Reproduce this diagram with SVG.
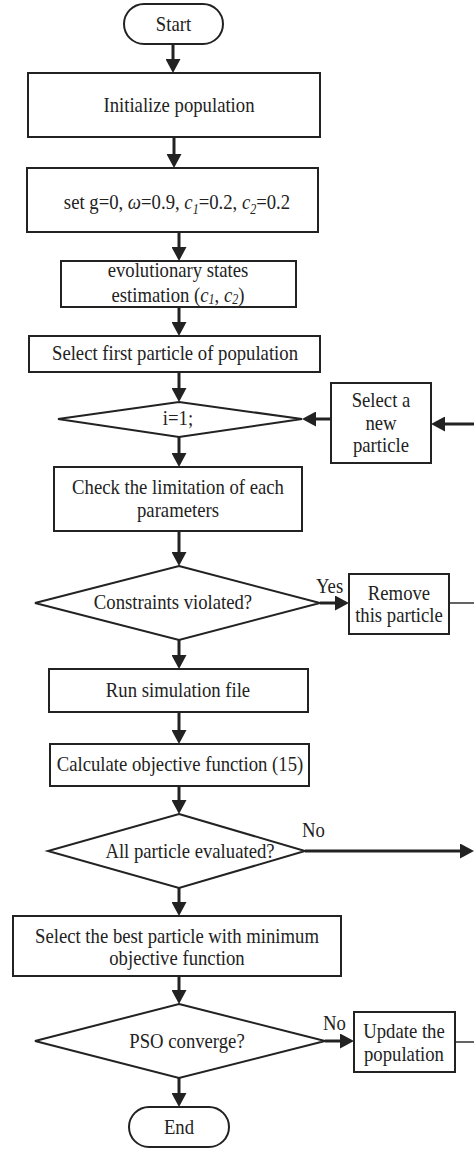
<svg xmlns="http://www.w3.org/2000/svg" width="474" height="1149" viewBox="0 0 474 1149">
<style>
.box{fill:#fff;stroke:#222;stroke-width:2}
.t{font-family:"Liberation Serif","Times New Roman",serif;font-size:18.7px;fill:#222;text-anchor:middle}
.l{font-family:"Liberation Serif","Times New Roman",serif;font-size:18.7px;fill:#222}
.c{stroke:#222;stroke-width:3;fill:none}
.thin{stroke:#222;stroke-width:1.4;fill:none}
.i{font-style:italic}
.s{font-size:12px;font-style:italic}
</style>
<defs>
<marker id="ah" markerUnits="userSpaceOnUse" markerWidth="15" markerHeight="15" refX="4" refY="7.5" orient="auto">
<path d="M0,0 L14,7.5 L0,15 z" fill="#222"/>
</marker>
</defs>
<g id="connectors">
<line class="c" x1="173" y1="44" x2="173" y2="63" marker-end="url(#ah)"/>
<line class="c" x1="174" y1="137" x2="174" y2="158" marker-end="url(#ah)"/>
<line class="c" x1="179" y1="232" x2="179" y2="251" marker-end="url(#ah)"/>
<line class="c" x1="179" y1="307" x2="179" y2="326" marker-end="url(#ah)"/>
<line class="c" x1="179" y1="372" x2="179" y2="392" marker-end="url(#ah)"/>
<line class="c" x1="331" y1="419" x2="312" y2="419" marker-end="url(#ah)"/>
<line class="c" x1="474" y1="424" x2="441" y2="424" marker-end="url(#ah)"/>
<line class="c" x1="179" y1="437" x2="179" y2="457" marker-end="url(#ah)"/>
<line class="c" x1="179" y1="531" x2="179" y2="556" marker-end="url(#ah)"/>
<line class="c" x1="320" y1="603" x2="339" y2="603" marker-end="url(#ah)"/>
<line class="thin" x1="449" y1="603" x2="474" y2="603"/>
<line class="c" x1="179" y1="640" x2="179" y2="659" marker-end="url(#ah)"/>
<line class="c" x1="179" y1="712" x2="179" y2="734" marker-end="url(#ah)"/>
<line class="c" x1="179" y1="786" x2="179" y2="804" marker-end="url(#ah)"/>
<line class="c" x1="305" y1="851" x2="464" y2="851" marker-end="url(#ah)"/>
<line class="c" x1="179" y1="888" x2="179" y2="906" marker-end="url(#ah)"/>
<line class="c" x1="179" y1="976" x2="179" y2="994" marker-end="url(#ah)"/>
<line class="c" x1="325" y1="1041" x2="344" y2="1041" marker-end="url(#ah)"/>
<line class="thin" x1="455" y1="1042" x2="474" y2="1042"/>
<line class="c" x1="179" y1="1078" x2="179" y2="1097" marker-end="url(#ah)"/>
<text class="l" x="316" y="593" transform="matrix(1 0 0 1.15 0 -88.95)">Yes</text>
<text class="l" x="302" y="837" transform="matrix(1 0 0 1.15 0 -125.55)">No</text>
<text class="l" x="323" y="1030" transform="matrix(1 0 0 1.15 0 -154.5)">No</text>
</g>
<g id="start">
<rect class="box" x="124" y="4" width="99" height="40" rx="20"/>
<text class="t" x="173.5" y="31" transform="matrix(1 0 0 1.15 0 -4.65)">Start</text>
</g>
<g id="init">
<rect class="box" x="28" y="73" width="292" height="64"/>
<text class="t" x="179" y="112" transform="matrix(1 0 0 1.15 0 -16.8)">Initialize population</text>
</g>
<g id="set">
<rect class="box" x="27" y="168" width="291" height="64"/>
<text class="t" x="177" y="209" transform="matrix(1 0 0 1.15 0 -31.35)">set g=0, <tspan class="i">ω</tspan>=0.9, <tspan class="i">c</tspan><tspan class="s" dy="4">1</tspan><tspan dy="-4">=0.2, </tspan><tspan class="i">c</tspan><tspan class="s" dy="4">2</tspan><tspan dy="-4">=0.2</tspan></text>
</g>
<g id="evo">
<rect class="box" x="61" y="261" width="235" height="46"/>
<text class="t" x="178" y="277" transform="matrix(1 0 0 1.15 0 -41.55)">evolutionary states</text>
<text class="t" x="178" y="302" transform="matrix(1 0 0 1.15 0 -45.3)">estimation (<tspan class="i">c</tspan><tspan class="s" dy="2">1</tspan><tspan dy="-2">, </tspan><tspan class="i">c</tspan><tspan class="s" dy="2">2</tspan><tspan dy="-2">)</tspan></text>
</g>
<g id="selfirst">
<rect class="box" x="29" y="336" width="291" height="36"/>
<text class="t" x="175" y="360" transform="matrix(1 0 0 1.15 0 -54)">Select first particle of population</text>
</g>
<g id="dec-i">
<polygon class="box" points="179,402 302,419 179,437 58,419"/>
<text class="t" x="178" y="425" transform="matrix(1 0 0 1.15 0 -63.75)">i=1;</text>
</g>
<g id="newparticle">
<rect class="box" x="331" y="383" width="100" height="80"/>
<text class="t" x="381" y="407" transform="matrix(1 0 0 1.15 0 -61.05)">Select a</text>
<text class="t" x="381" y="430" transform="matrix(1 0 0 1.15 0 -64.5)">new</text>
<text class="t" x="381" y="452" transform="matrix(1 0 0 1.15 0 -67.8)">particle</text>
</g>
<g id="check">
<rect class="box" x="54" y="467" width="248" height="64"/>
<text class="t" x="178" y="494" transform="matrix(1 0 0 1.15 0 -74.1)">Check the limitation of each</text>
<text class="t" x="178" y="517" transform="matrix(1 0 0 1.15 0 -77.55)">parameters</text>
</g>
<g id="dec-constraints">
<polygon class="box" points="179,566 320,603 179,640 35,603"/>
<text class="t" x="173" y="609" transform="matrix(1 0 0 1.15 0 -91.35)">Constraints violated?</text>
</g>
<g id="remove">
<rect class="box" x="349" y="574" width="100" height="60"/>
<text class="t" x="399" y="600" transform="matrix(1 0 0 1.15 0 -90)">Remove</text>
<text class="t" x="399" y="622" transform="matrix(1 0 0 1.15 0 -93.3)">this particle</text>
</g>
<g id="run">
<rect class="box" x="49" y="669" width="259" height="43"/>
<text class="t" x="178" y="697" transform="matrix(1 0 0 1.15 0 -104.55)">Run simulation file</text>
</g>
<g id="calc">
<rect class="box" x="50" y="744" width="259" height="42"/>
<text class="t" x="180" y="771" transform="matrix(1 0 0 1.15 0 -115.65)">Calculate objective function (15)</text>
</g>
<g id="dec-all">
<polygon class="box" points="179,814 305,851 179,888 48,851"/>
<text class="t" x="190" y="858" transform="matrix(1 0 0 1.15 0 -128.7)">All particle evaluated?</text>
</g>
<g id="best">
<rect class="box" x="13" y="916" width="328" height="60"/>
<text class="t" x="177" y="943" transform="matrix(1 0 0 1.15 0 -141.45)">Select the best particle with minimum</text>
<text class="t" x="177" y="965" transform="matrix(1 0 0 1.15 0 -144.75)">objective function</text>
</g>
<g id="dec-pso">
<polygon class="box" points="179,1004 325,1041 179,1078 35,1041"/>
<text class="t" x="187" y="1048" transform="matrix(1 0 0 1.15 0 -157.2)">PSO converge?</text>
</g>
<g id="update">
<rect class="box" x="354" y="1012" width="101" height="60"/>
<text class="t" x="404" y="1038" transform="matrix(1 0 0 1.15 0 -155.7)">Update the</text>
<text class="t" x="404" y="1061" transform="matrix(1 0 0 1.15 0 -159.15)">population</text>
</g>
<g id="end">
<rect class="box" x="129" y="1107" width="100" height="40" rx="20"/>
<text class="t" x="179" y="1134" transform="matrix(1 0 0 1.15 0 -170.1)">End</text>
</g>
</svg>
